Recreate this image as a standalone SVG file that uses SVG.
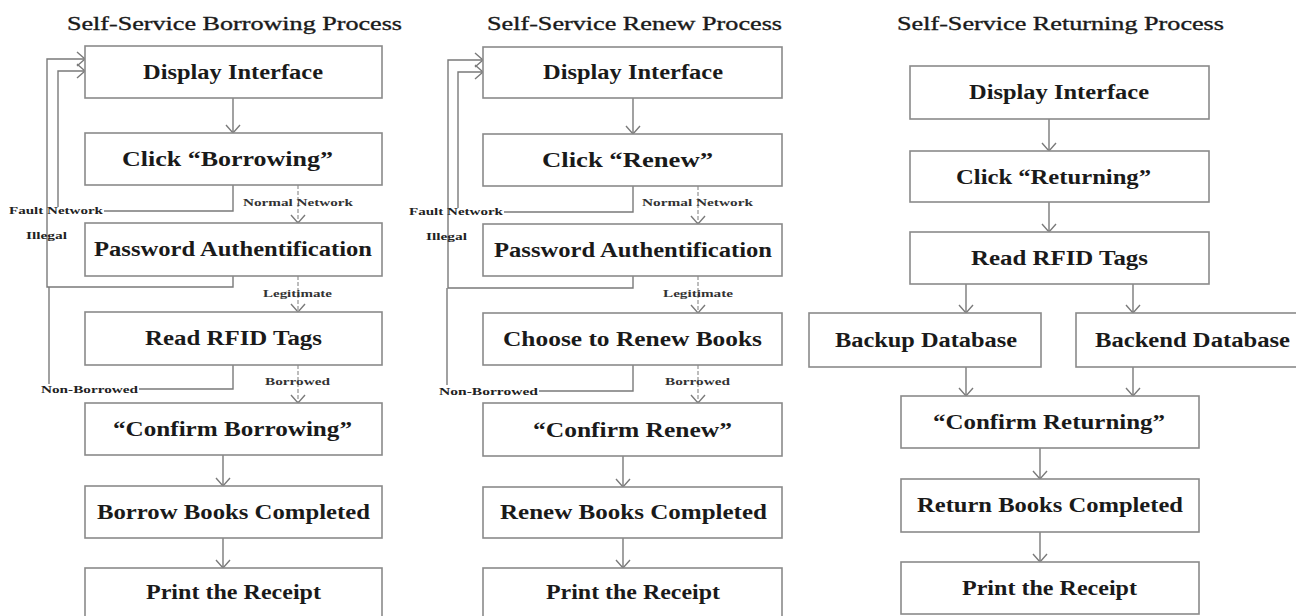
<svg xmlns="http://www.w3.org/2000/svg" width="1296" height="616" viewBox="0 0 1296 616">
<style>
.box{fill:#fff;stroke:#8a8a8a;stroke-width:1.6}
.t{font-family:"Liberation Serif","Times New Roman",serif;font-weight:bold;font-size:20px;fill:#1a1a1a}
.title{font-family:"Liberation Serif","Times New Roman",serif;font-size:19px;fill:#1a1a1a;stroke:#1a1a1a;stroke-width:0.35}
.lbl{font-family:"Liberation Serif","Times New Roman",serif;font-weight:bold;font-size:11px;fill:#222}
.lbs{font-family:"Liberation Serif","Times New Roman",serif;font-weight:bold;font-size:10px;fill:#333}
.c{fill:none;stroke:#7a7a7a;stroke-width:1.4}
.d{fill:none;stroke:#9a9a9a;stroke-width:1.3;stroke-dasharray:4 2}
</style>
<defs>
<marker id="ah" markerUnits="userSpaceOnUse" viewBox="-10 -9 12 18" refX="0" refY="0" markerWidth="12" markerHeight="18" orient="auto">
<path d="M-8,-7 L0,0 L-8,7" fill="none" stroke="#7a7a7a" stroke-width="1.4"/>
</marker>
</defs>
<rect width="1296" height="616" fill="#fff"/>

<text class="title" x="67" y="30" textLength="335" lengthAdjust="spacingAndGlyphs">Self-Service Borrowing Process</text>
<text class="title" x="487" y="30" textLength="295" lengthAdjust="spacingAndGlyphs">Self-Service Renew Process</text>
<text class="title" x="897" y="30" textLength="327" lengthAdjust="spacingAndGlyphs">Self-Service Returning Process</text>

<g id="connectors">
<!-- left -->
<path class="c" d="M233,98 V133" marker-end="url(#ah)"/>
<path class="c" d="M233,185 V211 H104"/>
<path class="c" d="M58,207 V71 H85" marker-end="url(#ah)"/>
<path class="d" d="M298,185 V223" marker-end="url(#ah)"/>
<path class="c" d="M233,276 V287 H47 V59 H85" marker-end="url(#ah)"/>
<path class="d" d="M298,276 V312" marker-end="url(#ah)"/>
<path class="c" d="M233,365 V389 H139"/>
<path class="c" d="M49,384 V287"/>
<path class="d" d="M298,365 V403" marker-end="url(#ah)"/>
<path class="c" d="M223,455 V486" marker-end="url(#ah)"/>
<path class="c" d="M223,538 V568" marker-end="url(#ah)"/>
<!-- middle -->
<path class="c" d="M633,98 V134" marker-end="url(#ah)"/>
<path class="c" d="M633,186 V212 H504"/>
<path class="c" d="M458,208 V72 H483" marker-end="url(#ah)"/>
<path class="d" d="M698,186 V224" marker-end="url(#ah)"/>
<path class="c" d="M633,276 V288 H448 V60 H483" marker-end="url(#ah)"/>
<path class="d" d="M698,276 V313" marker-end="url(#ah)"/>
<path class="c" d="M633,365 V391 H539"/>
<path class="c" d="M447,385 V288"/>
<path class="d" d="M698,365 V403" marker-end="url(#ah)"/>
<path class="c" d="M623,456 V487" marker-end="url(#ah)"/>
<path class="c" d="M623,538 V568" marker-end="url(#ah)"/>
<!-- right -->
<path class="c" d="M1049,119 V151" marker-end="url(#ah)"/>
<path class="c" d="M1049,202 V232" marker-end="url(#ah)"/>
<path class="c" d="M966,284 V313" marker-end="url(#ah)"/>
<path class="c" d="M1133,284 V313" marker-end="url(#ah)"/>
<path class="c" d="M966,367 V396" marker-end="url(#ah)"/>
<path class="c" d="M1133,367 V396" marker-end="url(#ah)"/>
<path class="c" d="M1040,448 V479" marker-end="url(#ah)"/>
<path class="c" d="M1040,532 V562" marker-end="url(#ah)"/>
<!-- labels -->
<text class="lbl" x="9" y="214" textLength="94" lengthAdjust="spacingAndGlyphs">Fault Network</text>
<text class="lbl" x="26" y="239" textLength="41" lengthAdjust="spacingAndGlyphs">Illegal</text>
<text class="lbs" x="243" y="206" textLength="110" lengthAdjust="spacingAndGlyphs">Normal Network</text>
<text class="lbs" x="263" y="297" textLength="69" lengthAdjust="spacingAndGlyphs">Legitimate</text>
<text class="lbl" x="41" y="393" textLength="97" lengthAdjust="spacingAndGlyphs">Non-Borrowed</text>
<text class="lbs" x="265" y="385" textLength="65" lengthAdjust="spacingAndGlyphs">Borrowed</text>
<text class="lbl" x="409" y="215" textLength="94" lengthAdjust="spacingAndGlyphs">Fault Network</text>
<text class="lbl" x="426" y="240" textLength="41" lengthAdjust="spacingAndGlyphs">Illegal</text>
<text class="lbs" x="642" y="206" textLength="111" lengthAdjust="spacingAndGlyphs">Normal Network</text>
<text class="lbs" x="663" y="297" textLength="70" lengthAdjust="spacingAndGlyphs">Legitimate</text>
<text class="lbl" x="439" y="395" textLength="99" lengthAdjust="spacingAndGlyphs">Non-Borrowed</text>
<text class="lbs" x="665" y="385" textLength="65" lengthAdjust="spacingAndGlyphs">Borrowed</text>
</g>

<!-- Left column -->
<g id="b-display"><rect class="box" x="85" y="46" width="297" height="52"/><text class="t" x="143" y="79" textLength="180" lengthAdjust="spacingAndGlyphs">Display Interface</text></g>
<g id="b-click"><rect class="box" x="85" y="133" width="297" height="52"/><text class="t" x="122" y="166" textLength="211" lengthAdjust="spacingAndGlyphs">Click “Borrowing”</text></g>
<g id="b-pass"><rect class="box" x="85" y="223" width="297" height="53"/><text class="t" x="94" y="256" textLength="278" lengthAdjust="spacingAndGlyphs">Password Authentification</text></g>
<g id="b-rfid"><rect class="box" x="85" y="312" width="297" height="53"/><text class="t" x="145" y="345" textLength="177" lengthAdjust="spacingAndGlyphs">Read RFID Tags</text></g>
<g id="b-confirm"><rect class="box" x="85" y="403" width="297" height="52"/><text class="t" x="113" y="436" textLength="239" lengthAdjust="spacingAndGlyphs">“Confirm Borrowing”</text></g>
<g id="b-done"><rect class="box" x="85" y="486" width="297" height="52"/><text class="t" x="97" y="519" textLength="273" lengthAdjust="spacingAndGlyphs">Borrow Books Completed</text></g>
<g id="b-print"><rect class="box" x="85" y="568" width="297" height="56"/><text class="t" x="146" y="599" textLength="175" lengthAdjust="spacingAndGlyphs">Print the Receipt</text></g>

<!-- Middle column -->
<g id="r-display"><rect class="box" x="483" y="47" width="299" height="51"/><text class="t" x="543" y="79" textLength="180" lengthAdjust="spacingAndGlyphs">Display Interface</text></g>
<g id="r-click"><rect class="box" x="483" y="134" width="299" height="52"/><text class="t" x="542" y="167" textLength="171" lengthAdjust="spacingAndGlyphs">Click “Renew”</text></g>
<g id="r-pass"><rect class="box" x="483" y="224" width="299" height="52"/><text class="t" x="494" y="257" textLength="278" lengthAdjust="spacingAndGlyphs">Password Authentification</text></g>
<g id="r-choose"><rect class="box" x="483" y="313" width="299" height="52"/><text class="t" x="503" y="346" textLength="259" lengthAdjust="spacingAndGlyphs">Choose to Renew Books</text></g>
<g id="r-confirm"><rect class="box" x="483" y="403" width="299" height="53"/><text class="t" x="533" y="437" textLength="199" lengthAdjust="spacingAndGlyphs">“Confirm Renew”</text></g>
<g id="r-done"><rect class="box" x="483" y="487" width="299" height="51"/><text class="t" x="500" y="519" textLength="267" lengthAdjust="spacingAndGlyphs">Renew Books Completed</text></g>
<g id="r-print"><rect class="box" x="483" y="568" width="299" height="56"/><text class="t" x="546" y="599" textLength="174" lengthAdjust="spacingAndGlyphs">Print the Receipt</text></g>

<!-- Right column -->
<g id="t-display"><rect class="box" x="910" y="66" width="299" height="53"/><text class="t" x="969" y="99" textLength="180" lengthAdjust="spacingAndGlyphs">Display Interface</text></g>
<g id="t-click"><rect class="box" x="910" y="151" width="299" height="51"/><text class="t" x="956" y="184" textLength="195" lengthAdjust="spacingAndGlyphs">Click “Returning”</text></g>
<g id="t-rfid"><rect class="box" x="910" y="232" width="299" height="52"/><text class="t" x="971" y="265" textLength="177" lengthAdjust="spacingAndGlyphs">Read RFID Tags</text></g>
<g id="t-backup"><rect class="box" x="809" y="313" width="232" height="54"/><text class="t" x="835" y="347" textLength="182" lengthAdjust="spacingAndGlyphs">Backup Database</text></g>
<g id="t-backend"><rect class="box" x="1076" y="313" width="224" height="54"/><text class="t" x="1095" y="347" textLength="195" lengthAdjust="spacingAndGlyphs">Backend Database</text></g>
<g id="t-confirm"><rect class="box" x="901" y="396" width="298" height="52"/><text class="t" x="933" y="429" textLength="232" lengthAdjust="spacingAndGlyphs">“Confirm Returning”</text></g>
<g id="t-done"><rect class="box" x="901" y="479" width="298" height="53"/><text class="t" x="917" y="512" textLength="266" lengthAdjust="spacingAndGlyphs">Return Books Completed</text></g>
<g id="t-print"><rect class="box" x="901" y="562" width="298" height="52"/><text class="t" x="962" y="595" textLength="175" lengthAdjust="spacingAndGlyphs">Print the Receipt</text></g>
</svg>
